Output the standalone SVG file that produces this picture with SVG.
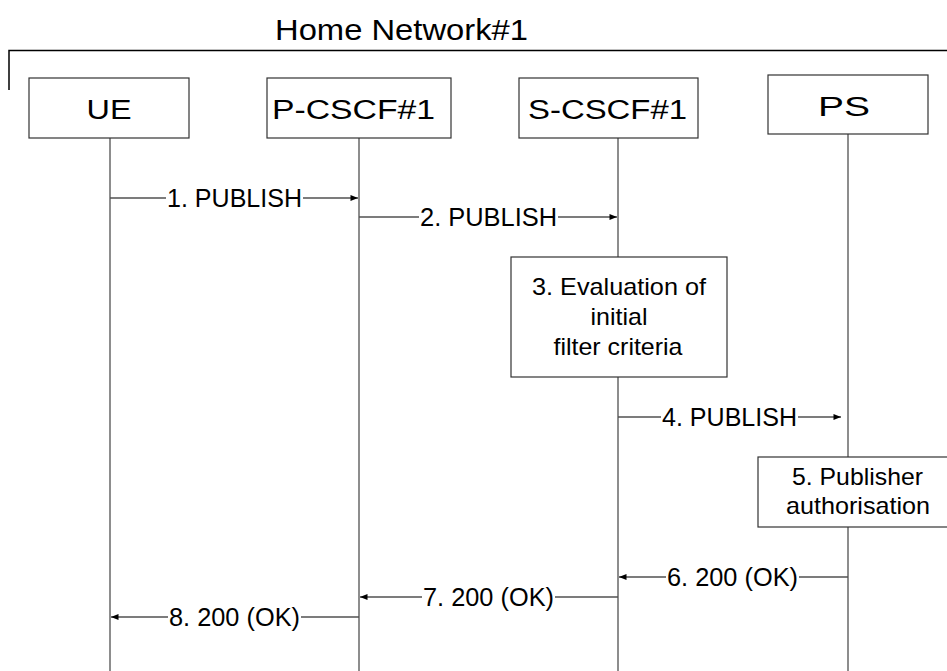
<svg xmlns="http://www.w3.org/2000/svg" width="947" height="671" viewBox="0 0 947 671">
<style>
text{font-family:"Liberation Sans",Arial,sans-serif;fill:#000}
.h{font-size:29px}
.n{font-size:27px;text-anchor:middle}
.b{font-size:24px;text-anchor:middle}
.m{font-size:26px}
.box{fill:#fff;stroke:#333;stroke-width:1.2}
.life{stroke:#505050;stroke-width:1.3;fill:none}
.msg{stroke:#505050;stroke-width:1.3;fill:none}
</style>
<defs>
<marker id="ah" viewBox="0 0 10 8" refX="10" refY="4" markerWidth="8" markerHeight="6" markerUnits="userSpaceOnUse" orient="auto">
<path d="M0,0 L10,4 L0,8 Z" fill="#000"/>
</marker>
</defs>
<rect width="947" height="671" fill="#fff"/>
<g id="home-network">
<path d="M9,90 V50.5 H947" fill="none" stroke="#000" stroke-width="1.5"/>
<text class="h" x="275" y="40" textLength="253" lengthAdjust="spacingAndGlyphs">Home Network#1</text>
</g>
<g id="lifelines">
<line class="life" x1="110" y1="138" x2="110" y2="671"/>
<line class="life" x1="359" y1="138" x2="359" y2="671"/>
<line class="life" x1="618" y1="138" x2="618" y2="671"/>
<line class="life" x1="848" y1="134" x2="848" y2="671"/>
</g>
<g id="UE">
<rect class="box" x="29" y="78" width="160" height="60"/>
<text class="n" x="109" y="118.5" textLength="45" lengthAdjust="spacingAndGlyphs">UE</text>
</g>
<g id="P-CSCF1">
<rect class="box" x="267" y="78" width="184" height="60"/>
<text class="n" x="353.5" y="118.5" textLength="163" lengthAdjust="spacingAndGlyphs">P-CSCF#1</text>
</g>
<g id="S-CSCF1">
<rect class="box" x="519" y="78" width="179" height="60"/>
<text class="n" x="607.5" y="118.5" textLength="159" lengthAdjust="spacingAndGlyphs">S-CSCF#1</text>
</g>
<g id="PS">
<rect class="box" x="768" y="75" width="160" height="59"/>
<text class="n" x="844" y="115.5" textLength="52" lengthAdjust="spacingAndGlyphs">PS</text>
</g>
<g id="step3">
<rect class="box" x="511" y="257" width="216" height="120"/>
<text class="b" x="619" y="295" textLength="174" lengthAdjust="spacingAndGlyphs">3. Evaluation of</text>
<text class="b" x="619" y="325" textLength="57" lengthAdjust="spacingAndGlyphs">initial</text>
<text class="b" x="618" y="355" textLength="129" lengthAdjust="spacingAndGlyphs">filter criteria</text>
</g>
<g id="step5">
<rect class="box" x="758" y="457" width="195" height="70"/>
<text class="b" x="857.5" y="485" textLength="131" lengthAdjust="spacingAndGlyphs">5. Publisher</text>
<text class="b" x="858" y="514" textLength="144" lengthAdjust="spacingAndGlyphs">authorisation</text>
</g>
<g id="connectors">
<line class="msg" x1="110" y1="198" x2="166" y2="198"/>
<line class="msg" x1="303" y1="198" x2="358" y2="198" marker-end="url(#ah)"/>
<text class="m" x="167" y="206.5" textLength="135" lengthAdjust="spacingAndGlyphs">1. PUBLISH</text>

<line class="msg" x1="359" y1="217" x2="419" y2="217"/>
<line class="msg" x1="558" y1="217" x2="617" y2="217" marker-end="url(#ah)"/>
<text class="m" x="420" y="226" textLength="137" lengthAdjust="spacingAndGlyphs">2. PUBLISH</text>

<line class="msg" x1="618" y1="417" x2="661" y2="417"/>
<line class="msg" x1="798" y1="417" x2="841" y2="417" marker-end="url(#ah)"/>
<text class="m" x="662" y="426" textLength="135" lengthAdjust="spacingAndGlyphs">4. PUBLISH</text>

<line class="msg" x1="848" y1="577" x2="799" y2="577"/>
<line class="msg" x1="666" y1="577" x2="619" y2="577" marker-end="url(#ah)"/>
<text class="m" x="667" y="586" textLength="131" lengthAdjust="spacingAndGlyphs">6. 200 (OK)</text>

<line class="msg" x1="618" y1="597" x2="555" y2="597"/>
<line class="msg" x1="422" y1="597" x2="360" y2="597" marker-end="url(#ah)"/>
<text class="m" x="423" y="606" textLength="131" lengthAdjust="spacingAndGlyphs">7. 200 (OK)</text>

<line class="msg" x1="359" y1="617" x2="301" y2="617"/>
<line class="msg" x1="168" y1="617" x2="111" y2="617" marker-end="url(#ah)"/>
<text class="m" x="169" y="626" textLength="131" lengthAdjust="spacingAndGlyphs">8. 200 (OK)</text>
</g>
</svg>
